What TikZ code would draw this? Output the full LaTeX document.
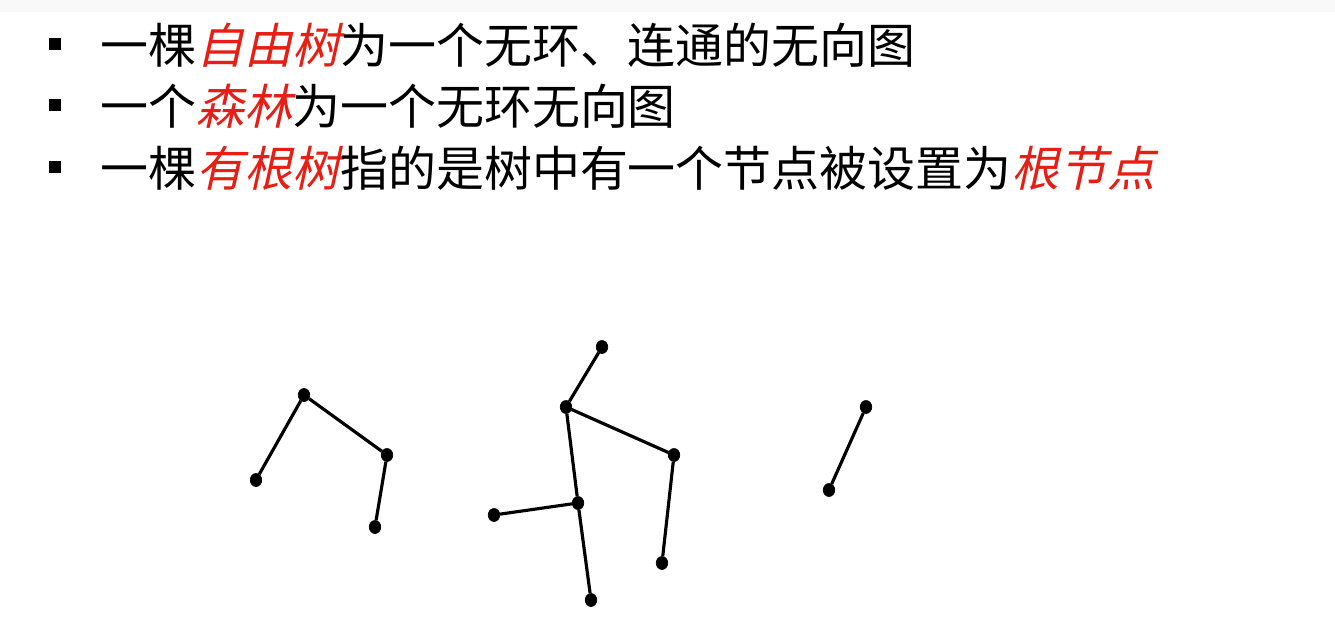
\documentclass[tikz,border=0pt]{standalone}
\usepackage{fontspec}
\usetikzlibrary{positioning,shapes.geometric}
\newfontfamily\cjk{Noto Sans CJK SC}
\newfontfamily\cjkslant[FakeSlant=0.22]{Noto Sans CJK SC}
\definecolor{emRed}{RGB}{230,30,20}
\newcommand{\redTerm}[1]{{\cjkslant\color{emRed}#1}}
\newcommand{\treePoint}[2]{%%
  \node[nodeStyle] (#1) at (#2) {};
}

\begin{document}
\begin{tikzpicture}[x=0.02cm,y=-0.02cm,%%
  lineStyle/.style={-,line width=1.8pt},%%
  nodeStyle/.style={draw,inner sep=0pt,minimum width=0.23cm,minimum height=0.26cm,ellipse,fill=black,black},%%
  bulletStyle/.style={rectangle,fill=black,inner sep=0pt,minimum size=0.24cm},%%
  lineText/.style={anchor=west,inner sep=0pt,font=\cjk\fontsize{27.3}{30}\selectfont}%%
]
\useasboundingbox (0,0) rectangle (1335,632);
%% Faint bar at the top.
\fill[gray!5] (0,0) rectangle (1335,12);
%%
%% The three bullet lines.
\node[bulletStyle] (bulletA) at (55,44) {};
\node[bulletStyle] (bulletB) at (55,105) {};
\node[bulletStyle] (bulletC) at (55,167) {};
\node[lineText] (lineA) at (100,45) {一棵\redTerm{自由树}为一个无环、连通的无向图};
\node[lineText] (lineB) at (100,106) {一个\redTerm{森林}为一个无环无向图};
\node[lineText] (lineC) at (100,168) {一棵\redTerm{有根树}指的是树中有一个节点被设置为\redTerm{根节点}};
%%
%% First tree.
\treePoint{aTop}{304,395}
\treePoint{aLeft}{256,480}
\treePoint{aRight}{387,455}
\treePoint{aLow}{375,527}
%% Second tree.
\treePoint{bTop}{602,347}
\treePoint{bRoot}{566,407}
\treePoint{bRight}{674,455}
\treePoint{bRightLow}{662,563}
\treePoint{bMid}{578,503}
\treePoint{bLeft}{494,515}
\treePoint{bLow}{591,600}
%% Third tree.
\treePoint{cTop}{866,407}
\treePoint{cLow}{829,490}
%%
%% The edges.
\draw[lineStyle] (aLeft) -- (aTop) -- (aRight) -- (aLow);
\draw[lineStyle] (bTop) -- (bRoot) -- (bRight) -- (bRightLow);
\draw[lineStyle] (bRoot) -- (bMid) -- (bLow);
\draw[lineStyle] (bMid) -- (bLeft);
\draw[lineStyle] (cTop) -- (cLow);
\end{tikzpicture}
\end{document}
